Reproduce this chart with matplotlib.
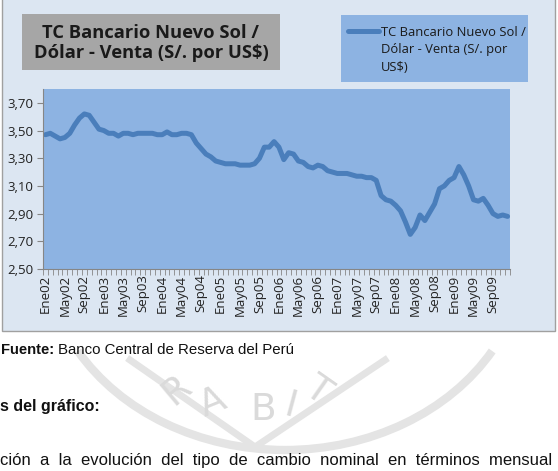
import matplotlib

matplotlib.use("Agg")
import matplotlib.pyplot as plt
from matplotlib.patches import Rectangle, Arc
from matplotlib.ticker import FixedLocator, FuncFormatter
import numpy as np

MONTHS = ["Ene", "Feb", "Mar", "Abr", "May", "Jun", "Jul", "Ago", "Sep", "Oct", "Nov", "Dic"]
YEARS = [2002, 2003, 2004, 2005, 2006, 2007, 2008, 2009]

# TC Bancario venta (S/. por US$), monthly
TC_2002 = [3.47, 3.48, 3.46, 3.44, 3.45, 3.48, 3.54, 3.59, 3.62, 3.61, 3.56, 3.51]
TC_2003 = [3.50, 3.48, 3.48, 3.46, 3.48, 3.48, 3.47, 3.48, 3.48, 3.48, 3.48, 3.47]
TC_2004 = [3.47, 3.49, 3.47, 3.47, 3.48, 3.48, 3.47, 3.41, 3.37, 3.33, 3.31, 3.28]
TC_2005 = [3.27, 3.26, 3.26, 3.26, 3.25, 3.25, 3.25, 3.26, 3.30, 3.38, 3.38, 3.42]
TC_2006 = [3.38, 3.29, 3.34, 3.33, 3.28, 3.27, 3.24, 3.23, 3.25, 3.24, 3.21, 3.20]
TC_2007 = [3.19, 3.19, 3.19, 3.18, 3.17, 3.17, 3.16, 3.16, 3.14, 3.03, 3.00, 2.99]
TC_2008 = [2.96, 2.92, 2.84, 2.75, 2.80, 2.89, 2.85, 2.91, 2.97, 3.08, 3.10, 3.14]
TC_2009 = [3.16, 3.24, 3.18, 3.10, 3.00, 2.99, 3.01, 2.96, 2.90, 2.88, 2.89, 2.88]

SERIES_NAME = "TC Bancario Nuevo Sol /\nDólar - Venta (S/. por\nUS$)"
TITLE = "TC Bancario Nuevo Sol /\nDólar - Venta (S/. por US$)"
Y_TICKS = [2.50, 2.70, 2.90, 3.10, 3.30, 3.50, 3.70]

W, H = 558, 471


def fx(px):
    return px / W


def fy(py):
    return 1 - py / H


values = TC_2002 + TC_2003 + TC_2004 + TC_2005 + TC_2006 + TC_2007 + TC_2008 + TC_2009
labels = [f"{m}{y % 100:02d}" for y in YEARS for m in MONTHS]
x = np.arange(len(values))

fig = plt.figure(figsize=(W / 100, H / 100), dpi=100)
fig.patch.set_facecolor("white")

# faint watermark behind everything
wm = "#e4e4e4"
fig.patches.append(Arc((fx(285), fy(250)), fx(480), fy(0) - fy(400), theta1=210, theta2=330,
                       transform=fig.transFigure, color=wm, lw=6, zorder=0))
fig.lines.append(plt.Line2D([fx(130), fx(255), fx(385)], [fy(360), fy(447), fy(360)],
                            transform=fig.transFigure, color=wm, lw=5, zorder=0))
for ch, px, py, rot in [("R", 177, 390, 40), ("A", 213, 403, 22), ("B", 263, 410, 0),
                        ("I", 290, 407, -15), ("T", 317, 390, -35)]:
    fig.text(fx(px), fy(py), ch, fontsize=27, color="#dadada", rotation=rot,
             ha="center", va="center", family="DejaVu Sans", zorder=0)

# chart area background
fig.patches.append(Rectangle((fx(2), fy(331)), fx(553), fy(-5) - fy(331), transform=fig.transFigure,
                             facecolor="#dce6f2", edgecolor="#a0a0a0", lw=1.0, zorder=1))

ax = fig.add_axes([fx(43), fy(269), fx(510 - 43), fy(89) - fy(269)])
ax.set_zorder(3)
ax.set_facecolor("#8db3e2")
ax.plot(x, values, color="#4a7ebb", lw=3.6, solid_capstyle="round", solid_joinstyle="round")
ax.set_xlim(-0.5, len(values) - 0.5)
ax.set_ylim(2.5, 3.8)

ax.set_yticks(Y_TICKS)
ax.yaxis.set_major_formatter(FuncFormatter(lambda v, _: f"{v:.2f}".replace(".", ",")))
ax.tick_params(axis="y", direction="out", length=4, color="#868686", labelsize=9.5,
               labelcolor="#222222", pad=3)

ax.xaxis.set_major_locator(FixedLocator(list(range(0, len(values), 4))))
ax.set_xticklabels(labels[::4], rotation=90)
ax.xaxis.set_minor_locator(FixedLocator(list(np.arange(-0.5, len(values), 1.0))))
ax.tick_params(axis="x", which="major", length=0, labelsize=9.5, labelcolor="#222222", pad=4)
ax.tick_params(axis="x", which="minor", direction="out", length=4, color="#868686")
for lab in ax.get_xticklabels() + ax.get_yticklabels():
    lab.set_family("Open Sans")

for side in ["top", "right"]:
    ax.spines[side].set_visible(False)
for side in ["left", "bottom"]:
    ax.spines[side].set_color("#868686")
    ax.spines[side].set_linewidth(0.8)

# title box
fig.patches.append(Rectangle((fx(22), fy(70)), fx(258), fy(14) - fy(70), transform=fig.transFigure,
                             facecolor="#a6a6a6", edgecolor="none", zorder=2))
fig.text(fx(151), fy(43), TITLE, ha="center", va="center", fontsize=13.2, fontweight="bold",
         family="Open Sans", color="#1a1a1a", linespacing=1.2, zorder=4)

# legend box
fig.patches.append(Rectangle((fx(341), fy(82)), fx(187), fy(15) - fy(82), transform=fig.transFigure,
                             facecolor="#8db3e2", edgecolor="none", zorder=2))
fig.lines.append(plt.Line2D([fx(348), fx(379)], [fy(31), fy(31)], transform=fig.transFigure,
                            color="#4a7ebb", lw=3.6, solid_capstyle="round", zorder=4))
fig.text(fx(381), fy(50), SERIES_NAME, ha="left", va="center", fontsize=9.4, family="Open Sans",
         color="#1a1a1a", linespacing=1.45, zorder=4)

# surrounding document text
fuente = fig.text(fx(1), fy(350), "Fuente:", ha="left", va="center", fontsize=10.6, fontweight="bold",
                  family="Liberation Sans", color="#111111")
renderer = fig.canvas.get_renderer()
fuente_end = fuente.get_window_extent(renderer).x1
fig.text((fuente_end + 4) / W, fy(350), "Banco Central de Reserva del Perú", ha="left", va="center",
         fontsize=10.8, family="Liberation Sans", color="#111111")
fig.text(fx(0), fy(406), "s del gráfico:", ha="left", va="center", fontsize=11.5, fontweight="bold",
         family="Liberation Sans", color="#111111")
fig.text(fx(0), fy(461), "ción  a  la  evolución  del  tipo  de  cambio  nominal  en  términos  mensual",
         ha="left", va="center", fontsize=12, family="Liberation Sans", color="#111111")

fig.savefig("out.png", dpi=100)
